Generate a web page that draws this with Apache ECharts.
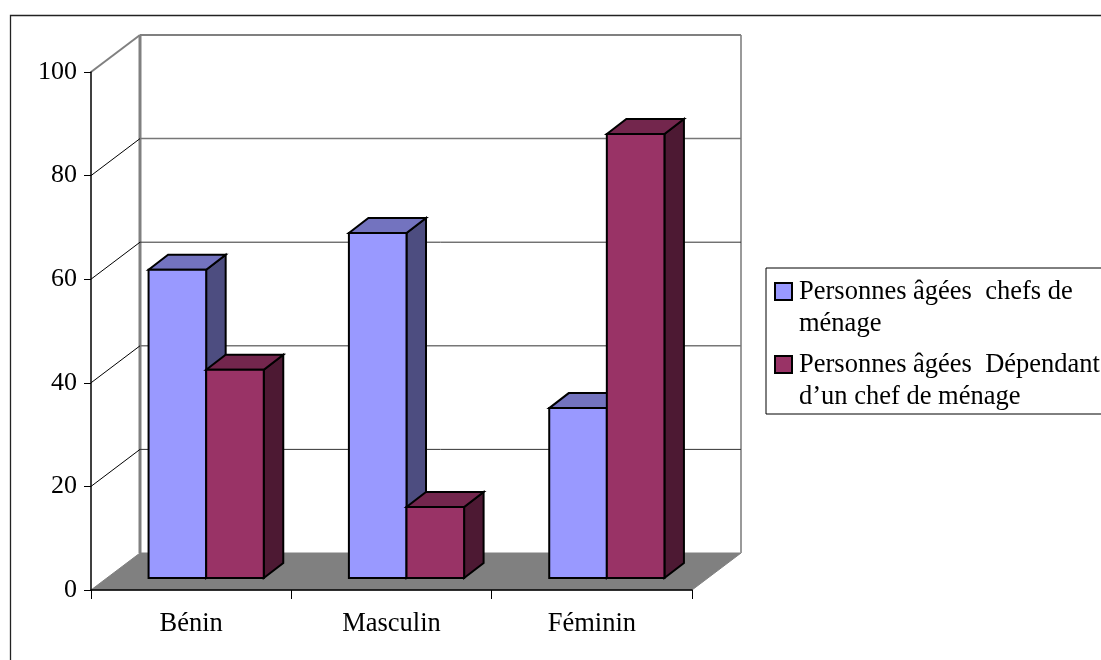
<!DOCTYPE html>
<html>
<head>
<meta charset="utf-8">
<style>html,body{margin:0;padding:0;background:#fff}#c{width:1101px;height:660px}</style>
<script src="https://cdn.jsdelivr.net/npm/echarts@6/dist/echarts.min.js"></script>
</head>
<body>
<div id="c"></div>
<script>
const categories = ['Bénin', 'Masculin', 'Féminin'];
const seriesNames = ['Personnes âgées  chefs de\nménage', 'Personnes âgées  Dépendant\nd’un chef de ménage'];
const chefs = [59.5, 66.6, 32.8];
const dependants = [40.2, 13.7, 85.7];
const yTicks = [0, 20, 40, 60, 80, 100];
const FONT = '"Liberation Serif","Times New Roman",serif';

const WALL = [49, -37];
const BASE = [15, -12];
const DEPTH = [19.5, -15];
const BAR_RATIO = 0.2875;

const gridStyles = {
  100: {stroke: '#808080', lineWidth: 2.2},
  80: {stroke: '#777', lineWidth: 1.5},
  60: {stroke: '#333', lineWidth: 1},
  40: {stroke: '#777', lineWidth: 1.5},
  20: {stroke: '#333', lineWidth: 1}
};

function wallItem(params, api) {
  const v = api.value(1);
  const band = api.size([1, 0])[0];
  const p = api.coord([0, v]);
  const x0 = p[0] - band / 2;
  const right = x0 + band * categories.length;
  if (v === 0) {
    return {
      type: 'group',
      children: [
        {type: 'polygon', shape: {points: [[x0, p[1]], [x0 + WALL[0], p[1] + WALL[1]], [right + WALL[0], p[1] + WALL[1]], [right, p[1]]]},
          style: {fill: '#808080', stroke: '#808080', lineWidth: 1}},
        {type: 'polyline', shape: {points: [[x0 + WALL[0], p[1] + WALL[1]], [x0 + WALL[0], api.coord([0, 100])[1] + WALL[1]]]},
          style: {stroke: '#808080', lineWidth: 3, fill: 'none'}},
        {type: 'polyline', shape: {points: [[right + WALL[0], p[1] + WALL[1]], [right + WALL[0], api.coord([0, 100])[1] + WALL[1]]]},
          style: {stroke: '#9a9a9a', lineWidth: 2, fill: 'none'}}
      ]
    };
  }
  const g = gridStyles[v];
  return {
    type: 'group',
    children: [
      {type: 'line', shape: {x1: x0, y1: p[1], x2: x0 + WALL[0], y2: p[1] + WALL[1]},
        style: {stroke: v === 100 ? '#808080' : '#000', lineWidth: v === 100 ? 2 : 1}},
      {type: 'line', shape: {x1: x0 + WALL[0], y1: p[1] + WALL[1], x2: right + WALL[0], y2: p[1] + WALL[1]}, style: g}
    ]
  };
}

function barRenderer(side, colors) {
  return function (params, api) {
    const i = api.value(0);
    const c = api.coord([i, 0]);
    const t = api.coord([i, api.value(1)]);
    const w = api.size([1, 0])[0] * BAR_RATIO;
    const xl = c[0] + BASE[0] + (side === 0 ? -w : 0);
    const xr = xl + w;
    const yb = c[1] + BASE[1];
    const yt = t[1] + BASE[1];
    const dx = DEPTH[0], dy = DEPTH[1];
    const line = {stroke: '#000', lineWidth: 2, lineJoin: 'miter'};
    return {
      type: 'group',
      children: [
        {type: 'polygon', shape: {points: [[xr, yb], [xr + dx, yb + dy], [xr + dx, yt + dy], [xr, yt]]}, style: Object.assign({fill: colors[2]}, line)},
        {type: 'polygon', shape: {points: [[xl, yt], [xl + dx, yt + dy], [xr + dx, yt + dy], [xr, yt]]}, style: Object.assign({fill: colors[1]}, line)},
        {type: 'rect', shape: {x: xl, y: yt, width: w, height: yb - yt}, style: Object.assign({fill: colors[0]}, line)}
      ]
    };
  };
}

const swatch = 'path://M0 0L0 0M0 7H17V24H0ZM19 64L19 64';

const option = {
  animation: false,
  backgroundColor: '#fff',
  textStyle: {fontFamily: FONT},
  grid: {left: 91, top: 72, right: 409, bottom: 70, containLabel: false},
  graphic: [{
    type: 'rect', silent: true, z: 0,
    shape: {x: 10.5, y: 15.5, width: 1200, height: 800},
    style: {fill: 'none', stroke: '#222', lineWidth: 1.3}
  }],
  legend: {
    orient: 'vertical', left: 766, top: 268,
    padding: [7, 8, 0, 8],
    itemWidth: 19, itemHeight: 64, itemGap: 7,
    icon: swatch,
    backgroundColor: '#fff', borderColor: '#000', borderWidth: 1,
    selectedMode: false,
    itemStyle: {borderColor: '#000', borderWidth: 2},
    textStyle: {fontFamily: FONT, fontSize: 26.5, color: '#000', lineHeight: 32},
    data: seriesNames
  },
  xAxis: {
    type: 'category', data: categories, boundaryGap: true, z: 5,
    axisLine: {show: true, lineStyle: {color: '#000', width: 1.5}},
    axisTick: {show: true, length: 9, alignWithLabel: false, lineStyle: {color: '#000', width: 1}},
    axisLabel: {fontFamily: FONT, fontSize: 26.5, color: '#000', margin: 21},
    splitLine: {show: false}
  },
  yAxis: {
    type: 'value', min: 0, max: 100, interval: 20, z: 5,
    axisLine: {show: true, lineStyle: {color: '#000', width: 1.5}},
    axisTick: {show: true, length: 7, lineStyle: {color: '#000', width: 1}},
    axisLabel: {fontFamily: FONT, fontSize: 26, color: '#000', margin: 14, padding: [6, 0, 0, 0]},
    splitLine: {show: false}
  },
  series: [
    {type: 'custom', name: 'walls', silent: true, clip: false, z: 1, renderItem: wallItem,
      encode: {x: 0, y: 1}, data: yTicks.map(v => [0, v])},
    {type: 'custom', name: seriesNames[0], clip: false, z: 2, itemStyle: {color: '#9999FF'},
      renderItem: barRenderer(0, ['#9999FF', '#7373BF', '#4D4D80']),
      encode: {x: 0, y: 1}, data: chefs.map((v, i) => [i, v])},
    {type: 'custom', name: seriesNames[1], clip: false, z: 3, itemStyle: {color: '#993366'},
      renderItem: barRenderer(1, ['#993366', '#73264D', '#4D1933']),
      encode: {x: 0, y: 1}, data: dependants.map((v, i) => [i, v])}
  ]
};
const chart = echarts.init(document.getElementById('c'), null, {renderer: 'canvas'});
chart.setOption(option);
</script>
</body>
</html>
